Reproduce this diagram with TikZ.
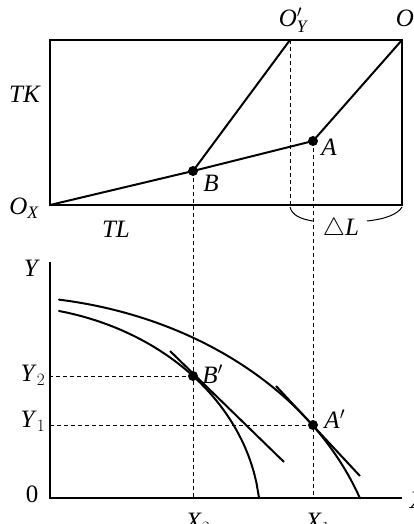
\documentclass[tikz,border=0pt]{standalone}
\usepackage{amsmath}
\usepackage{fontspec}
\setmainfont{Liberation Serif}
\usetikzlibrary{positioning,calc}

\newcommand{\itl}[1]{\textit{#1}}

\begin{document}
\begin{tikzpicture}[x=1pt,y=-1pt,
  lbl/.style={font=\fontsize{25}{28}\selectfont, inner sep=1pt},
  dot/.style={circle, fill, inner sep=0pt, minimum size=10pt},
  ray/.style={line width=2pt},
  guide/.style={dashed, line width=1pt, dash pattern=on 4pt off 3pt},
  curve/.style={line width=2pt, line cap=round}]
\useasboundingbox (0,0) rectangle (414,524);

% Edgeworth box
\coordinate (OX) at (50,205);
\coordinate (OY) at (402,40);
\coordinate (OYp) at (290,40);
\draw[line width=1.2pt] (OX) rectangle (OY);
\node[dot] (B) at (193,171) {};
\node[dot] (A) at (313,141) {};
\draw[ray] (OX) -- (B.center) -- (A.center);
\draw[ray] (OYp) -- (B.center);
\draw[ray] (OY) -- (A.center);
\draw[guide] (OYp) -- (OYp|-OX);

\node[lbl] (oxlab) at (24,208) {\itl{O}$_{\itl{X}}$};
\node[lbl] (tklab) at (25,94) {\itl{TK}};
\node[lbl] (tllab) at (116,229) {\itl{TL}};
\node[lbl] (oyplab) at (293,20) {\itl{O}$'_{\itl{Y}}$};
\node[lbl] (oylab) at (410,20) {\itl{O}$_{\itl{Y}}$};
\node[lbl, right=4pt of B, yshift=-12pt] (blab) {\itl{B}};
\node[lbl, right=2pt of A, yshift=-6pt] (alab) {\itl{A}};

% Delta L brace
\node[lbl] (dL) at (341,229) {$\triangle$\itl{L}};
\draw[line width=1pt] (290,207) .. controls (292,215) and (300,219) .. (313,221);
\draw[line width=1pt] (367,221) .. controls (386,219) and (398,214) .. (402,207);

% production possibility curves
\coordinate (O) at (50,498);
\draw[line width=1.5pt] (50,262) -- (O) -- (402,498);
\node[lbl] (ylab) at (32,268) {\itl{Y}};
\node[lbl] (xlab) at (418,500) {\itl{X}};
\node[lbl] (zlab) at (32,494) {0};

\node[dot] (Bp) at (193,376) {};
\node[dot] (Ap) at (313,425) {};
\draw[curve] plot[domain=59:360, samples=80] (\x, {600-304*sqrt(1-(\x/382)^2)});
\draw[curve] plot[domain=59:259, samples=80] (\x, {520-214.6*sqrt(1-(\x/260.4)^2)});
\draw[ray] ($(Bp)+(-23,-25)$) -- ($(Bp)+(91,86)$);
\draw[ray] ($(Ap)+(-37,-39)$) -- ($(Ap)+(47,51)$);

\draw[guide] (B.center) -- (B|-O);
\draw[guide] (A.center) -- (A|-O);
\draw[guide] (Bp.center) -- (Bp-|O);
\draw[guide] (Ap.center) -- (Ap-|O);

\node[lbl] (y2lab) at (33,375) {\itl{Y}$_2$};
\node[lbl] (y1lab) at (33,421) {\itl{Y}$_1$};
\node[lbl] (x2lab) at (198,523) {\itl{X}$_2$};
\node[lbl] (x1lab) at (318,523) {\itl{X}$_1$};
\node[lbl, right=3pt of Bp, yshift=2pt] (bplab) {\itl{B}$'$};
\node[lbl, right=5pt of Ap, yshift=6pt] (aplab) {\itl{A}$'$};
\end{tikzpicture}
\end{document}
